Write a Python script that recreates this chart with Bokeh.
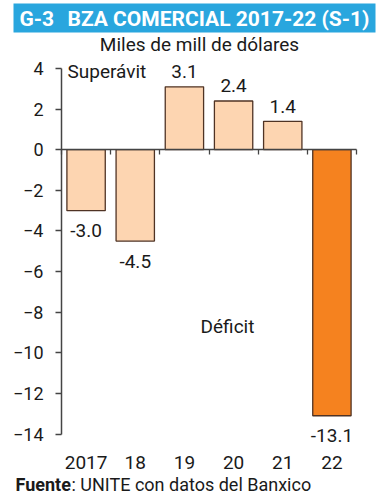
import numpy as np
from bokeh.plotting import figure
from bokeh.models import Range1d, FixedTicker, LinearAxis, Label, BoxAnnotation
from bokeh.embed import file_html
from bokeh.resources import INLINE

# ---- data ----
years = ["2017", "18", "19", "20", "21", "22"]
balance = [-3.0, -4.5, 3.1, 2.4, 1.4, -13.1]
value_labels = ["-3.0", "-4.5", "3.1", "2.4", "1.4", "-13.1"]
y_ticks = [4, 2, 0, -2, -4, -6, -8, -10, -12, -14]
highlight_year = "22"
title_code = "G-3"
title_text = "BZA COMERCIAL 2017-22 (S-1)"
subtitle = "Miles de mill de dólares"
surplus_text = "Superávit"
deficit_text = "Déficit"
source_bold = "Fuente"
source_rest = ": UNITE con datos del Banxico"

# ---- style ----
FONT = "Roboto"
BLUE = "#29a6de"
PEACH = "#fdd5b1"
ORANGE = "#f5821f"
EDGE = "#4f3324"
AXIS = "#444444"
TXT = "#1a1a1a"

W, H = 388, 500
# pixel box of the value area (x 0..n categories, y min..max tick)
FL, FR, FT, FB = 61, 356, 68, 433.5
X0, X1 = 0, len(years)
Y0, Y1 = min(y_ticks), max(y_ticks)


def dx(px):
    return X0 + (px - FL) * (X1 - X0) / (FR - FL)


def dy(py):
    return Y1 - (py - FT) * (Y1 - Y0) / (FB - FT)


ppu_y = (FB - FT) / (Y1 - Y0)

p = figure(width=W, height=H, output_backend="svg", toolbar_location=None,
           x_range=Range1d(dx(0), dx(W)), y_range=Range1d(dy(H), dy(0)),
           x_axis_location=None, y_axis_location=None,
           min_border_left=0, min_border_right=0,
           min_border_top=0, min_border_bottom=0)
p.grid.visible = False
p.outline_line_color = None
p.background_fill_color = "white"
p.border_fill_color = "white"

# y axis (at x = 0, spanning the tick range)
yax = LinearAxis(ticker=FixedTicker(ticks=y_ticks), fixed_location=X0, bounds=(Y0, Y1))
yax.axis_line_color = AXIS
yax.axis_line_width = 1.5
yax.major_tick_line_color = AXIS
yax.major_tick_line_width = 1.5
yax.major_tick_out = 6
yax.major_tick_in = 0
yax.minor_tick_line_color = None
yax.major_label_standoff = 12
yax.major_label_text_font = FONT
yax.major_label_text_font_size = "18px"
yax.major_label_text_color = TXT
p.add_layout(yax, "left")

# zero line with category-boundary ticks
bounds = list(range(len(years) + 1))
zax = LinearAxis(ticker=FixedTicker(ticks=bounds), fixed_location=0, bounds=(X0, X1),
                 major_label_overrides={b: "" for b in bounds})
zax.axis_line_color = AXIS
zax.axis_line_width = 1.5
zax.major_tick_line_color = AXIS
zax.major_tick_line_width = 1.3
zax.major_tick_out = 5
zax.major_tick_in = 0
zax.minor_tick_line_color = None
zax.major_label_text_font_size = "1px"
p.add_layout(zax, "below")

# category labels below the value area
xc = [i + 0.5 for i in range(len(years))]
xax = LinearAxis(ticker=FixedTicker(ticks=xc), fixed_location=Y0, bounds=(X0, X1),
                 major_label_overrides={c: y for c, y in zip(xc, years)})
xax.axis_line_color = None
xax.major_tick_line_color = None
xax.minor_tick_line_color = None
xax.major_label_standoff = 16
xax.major_label_text_font = FONT
xax.major_label_text_font_size = "19px"
xax.major_label_text_color = TXT
p.add_layout(xax, "below")

# bars
colors = [ORANGE if y == highlight_year else PEACH for y in years]
p.vbar(x=xc, top=balance, bottom=0, width=0.78, fill_color=colors,
       line_color=EDGE, line_width=1.3, level="underlay")


def lab(x, y, text, size, align="left", bold=False, color=TXT):
    p.add_layout(Label(x=x, y=y, text=text, text_align=align, text_baseline="middle",
                       text_font=FONT, text_font_size=size,
                       text_font_style="bold" if bold else "normal", text_color=color))


# value labels
for x, v, t in zip(xc, balance, value_labels):
    yy = v + 15 / ppu_y if v >= 0 else v - 20 / ppu_y
    lab(x, yy, t, "19px", align="center")

# title bar
p.add_layout(BoxAnnotation(left=dx(13), right=dx(375), top=dy(3), bottom=dy(32),
                           fill_color=BLUE, fill_alpha=1, line_color=None))
lab(dx(19), dy(18), title_code, "21px", bold=True, color="white")
lab(dx(67), dy(18), title_text, "21px", bold=True, color="white")
# subtitle
lab(dx(199), dy(44), subtitle, "19px", align="center")
# annotations
lab(dx(67), dy(71), surplus_text, "19px")
lab(dx(227), dy(326), deficit_text, "19px", align="center")
# source
lab(dx(15), dy(484), source_bold, "18px", bold=True)
lab(dx(71), dy(484), source_rest, "18px")

open("out.html", "w").write(file_html(p, INLINE))
